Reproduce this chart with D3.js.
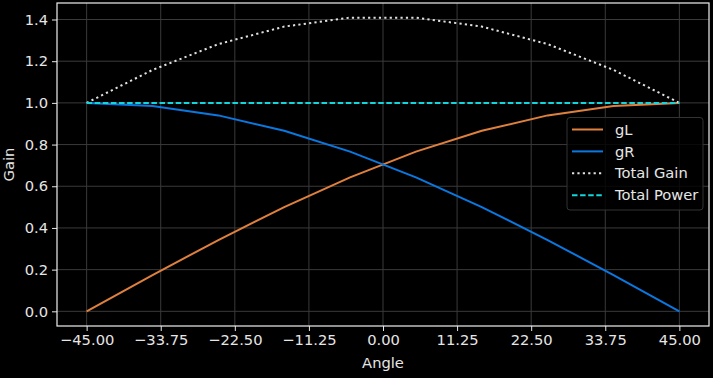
<!DOCTYPE html>
<html>
<head>
<meta charset="utf-8">
<script src="https://cdn.jsdelivr.net/npm/d3@7"></script>
<style>
  body { margin: 0; background: #000; }
  text { font-family: "DejaVu Sans", sans-serif; fill: #e6e6e6; }
</style>
</head>
<body>
<svg id="chart"></svg>
<script>
var width = 713,
  height = 378;

var angles = [-45, -35, -25, -15, -5, 5, 15, 25, 35, 45];
var gL = [0.000, 0.174, 0.342, 0.500, 0.643, 0.766, 0.866, 0.940, 0.985, 1.000];
var gR = [1.000, 0.985, 0.940, 0.866, 0.766, 0.643, 0.500, 0.342, 0.174, 0.000];
var totalGain = [1.000, 1.158, 1.282, 1.366, 1.409, 1.409, 1.366, 1.282, 1.158, 1.000];
var totalPower = [1, 1, 1, 1, 1, 1, 1, 1, 1, 1];

var xTicks = [-45, -33.75, -22.5, -11.25, 0, 11.25, 22.5, 33.75, 45];
var yTicks = [0, 0.2, 0.4, 0.6, 0.8, 1.0, 1.2, 1.4];

var series = [
  { name: 'gL', values: gL, color: '#e0803e', dash: null },
  { name: 'gR', values: gR, color: '#0a78e0', dash: null },
  { name: 'Total Gain', values: totalGain, color: '#e0e0e0', dash: '2.2,3.2' },
  { name: 'Total Power', values: totalPower, color: '#12d6de', dash: '5.5,2.6' }
];

var fontSize = 14.7;

var margin = { top: 3, right: 4, bottom: 52, left: 57 };
var w = width - margin.left - margin.right,
  h = height - margin.top - margin.bottom;

var svg = d3.select('#chart')
  .attr('width', width)
  .attr('height', height);

svg.append('rect')
  .attr('width', width)
  .attr('height', height)
  .attr('fill', '#000');

var g = svg.append('g')
  .attr('transform', 'translate(' + margin.left + ',' + margin.top + ')');

var x = d3.scaleLinear()
  .domain([-49.5, 49.5])
  .range([0, w]);

var y = d3.scaleLinear()
  .domain([-0.0704, 1.4792])
  .range([h, 0]);

// grid
g.append('g')
  .selectAll('line.vx')
  .data(xTicks)
  .enter().append('line')
  .attr('x1', function(d) { return x(d); })
  .attr('x2', function(d) { return x(d); })
  .attr('y1', 0)
  .attr('y2', h)
  .attr('stroke', '#3a3a3a')
  .attr('stroke-width', 1);

g.append('g')
  .selectAll('line.hy')
  .data(yTicks)
  .enter().append('line')
  .attr('x1', 0)
  .attr('x2', w)
  .attr('y1', function(d) { return y(d); })
  .attr('y2', function(d) { return y(d); })
  .attr('stroke', '#3a3a3a')
  .attr('stroke-width', 1);

// axes
var xAxis = g.append('g')
  .attr('transform', 'translate(0,' + h + ')')
  .call(d3.axisBottom(x)
    .tickValues(xTicks)
    .tickFormat(function(d) { return d3.format('.2f')(d).replace('-', '\u2212'); })
    .tickSize(5)
    .tickPadding(4));

var yAxis = g.append('g')
  .call(d3.axisLeft(y)
    .tickValues(yTicks)
    .tickFormat(d3.format('.1f'))
    .tickSize(5)
    .tickPadding(4));

[xAxis, yAxis].forEach(function(a) {
  a.select('.domain').remove();
  a.attr('font-size', fontSize).attr('font-family', '"DejaVu Sans", sans-serif');
  a.selectAll('line').attr('stroke', '#e6e6e6');
  a.selectAll('text')
    .style('font-size', fontSize + 'px')
    .attr('fill', '#e6e6e6');
});

// lines
var line = d3.line()
  .x(function(d, i) { return x(angles[i]); })
  .y(function(d) { return y(d); });

series.forEach(function(s) {
  g.append('path')
    .datum(s.values)
    .attr('fill', 'none')
    .attr('stroke', s.color)
    .attr('stroke-width', 2)
    .attr('stroke-dasharray', s.dash)
    .attr('d', line);
});

// frame
g.append('rect')
  .attr('width', w)
  .attr('height', h)
  .attr('fill', 'none')
  .attr('stroke', '#f0f0f0')
  .attr('stroke-width', 1.2);

// labels
g.append('text')
  .attr('x', w / 2)
  .attr('y', h + 42)
  .attr('text-anchor', 'middle')
  .style('font-size', fontSize + 'px')
  .text('Angle');

g.append('text')
  .attr('transform', 'translate(' + (-43) + ',' + (h / 2) + ')rotate(-90)')
  .attr('text-anchor', 'middle')
  .style('font-size', fontSize + 'px')
  .text('Gain');

// legend
var legend = svg.append('g')
  .attr('transform', 'translate(567,117.5)');

legend.append('rect')
  .attr('width', 136)
  .attr('height', 92.5)
  .attr('rx', 3)
  .attr('fill', '#000')
  .attr('fill-opacity', 0.8)
  .attr('stroke', '#333')
  .attr('stroke-width', 1);

series.forEach(function(s, i) {
  var row = legend.append('g')
    .attr('transform', 'translate(0,' + (12 + i * 21.9) + ')');
  row.append('line')
    .attr('x1', 5)
    .attr('x2', 36)
    .attr('stroke', s.color)
    .attr('stroke-width', 2)
    .attr('stroke-dasharray', s.dash);
  row.append('text')
    .attr('x', 48)
    .attr('dy', '0.35em')
    .style('font-size', fontSize + 'px')
    .text(s.name);
});
</script>
</body>
</html>
